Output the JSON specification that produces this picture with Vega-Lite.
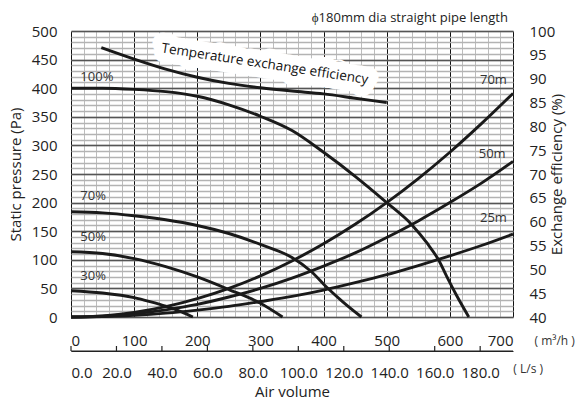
{
  "$schema": "https://vega.github.io/schema/vega-lite/v6.json",
  "width": 442,
  "height": 286,
  "autosize": {"type": "none"},
  "padding": {"left": 71, "top": 31, "right": 66, "bottom": 84},
  "background": "white",
  "config": {
    "view": {"stroke": null},
    "font": "Open Sans",
    "axis": {"labelFont": "Open Sans", "labelFontSize": 15, "labelColor": "#222", "titleFont": "Open Sans", "titleFontSize": 15, "titleFontWeight": "normal", "titleColor": "#222"}
  },
  "datasets": {
    "note": [{"x": 307, "y": 442, "label": "Temperature exchange efficiency"}],
    "head": [{"x": 692, "y": 522, "label": "ϕ180mm dia straight pipe length"}],
    "fan": [
      {"s": "100%", "q": 0, "p": 400}, {"s": "100%", "q": 50, "p": 400}, {"s": "100%", "q": 100, "p": 398}, {"s": "100%", "q": 150, "p": 394}, {"s": "100%", "q": 200, "p": 386}, {"s": "100%", "q": 250, "p": 371}, {"s": "100%", "q": 300, "p": 351}, {"s": "100%", "q": 350, "p": 326}, {"s": "100%", "q": 400, "p": 288}, {"s": "100%", "q": 450, "p": 246}, {"s": "100%", "q": 500, "p": 200}, {"s": "100%", "q": 540, "p": 161}, {"s": "100%", "q": 564, "p": 129}, {"s": "100%", "q": 582, "p": 100}, {"s": "100%", "q": 595, "p": 71}, {"s": "100%", "q": 609, "p": 41}, {"s": "100%", "q": 630, "p": 0},
      {"s": "70%", "q": 0, "p": 184}, {"s": "70%", "q": 50, "p": 182}, {"s": "70%", "q": 100, "p": 177}, {"s": "70%", "q": 150, "p": 170}, {"s": "70%", "q": 200, "p": 160}, {"s": "70%", "q": 250, "p": 146}, {"s": "70%", "q": 300, "p": 127}, {"s": "70%", "q": 350, "p": 104}, {"s": "70%", "q": 380, "p": 80}, {"s": "70%", "q": 405, "p": 52}, {"s": "70%", "q": 430, "p": 27}, {"s": "70%", "q": 460, "p": 0},
      {"s": "50%", "q": 0, "p": 114}, {"s": "50%", "q": 50, "p": 111}, {"s": "50%", "q": 100, "p": 102}, {"s": "50%", "q": 150, "p": 88}, {"s": "50%", "q": 200, "p": 70}, {"s": "50%", "q": 250, "p": 48}, {"s": "50%", "q": 300, "p": 24}, {"s": "50%", "q": 335, "p": 0},
      {"s": "30%", "q": 0, "p": 46}, {"s": "30%", "q": 50, "p": 42}, {"s": "30%", "q": 100, "p": 34}, {"s": "30%", "q": 125, "p": 27}, {"s": "30%", "q": 150, "p": 19}, {"s": "30%", "q": 175, "p": 9}, {"s": "30%", "q": 193, "p": 0}
    ],
    "sys": [
      {"s": "70m", "q": 0, "p": 0}, {"s": "70m", "q": 50, "p": 2}, {"s": "70m", "q": 100, "p": 8}, {"s": "70m", "q": 150, "p": 18}, {"s": "70m", "q": 200, "p": 32}, {"s": "70m", "q": 250, "p": 50}, {"s": "70m", "q": 300, "p": 72}, {"s": "70m", "q": 350, "p": 98}, {"s": "70m", "q": 400, "p": 128}, {"s": "70m", "q": 450, "p": 162}, {"s": "70m", "q": 500, "p": 200}, {"s": "70m", "q": 550, "p": 242}, {"s": "70m", "q": 600, "p": 288}, {"s": "70m", "q": 650, "p": 338}, {"s": "70m", "q": 700, "p": 391},
      {"s": "50m", "q": 0, "p": 0}, {"s": "50m", "q": 50, "p": 1.4}, {"s": "50m", "q": 100, "p": 5.6}, {"s": "50m", "q": 150, "p": 12.5}, {"s": "50m", "q": 200, "p": 22}, {"s": "50m", "q": 250, "p": 35}, {"s": "50m", "q": 300, "p": 50}, {"s": "50m", "q": 350, "p": 68}, {"s": "50m", "q": 400, "p": 89}, {"s": "50m", "q": 450, "p": 112}, {"s": "50m", "q": 500, "p": 139}, {"s": "50m", "q": 550, "p": 168}, {"s": "50m", "q": 600, "p": 200}, {"s": "50m", "q": 650, "p": 234}, {"s": "50m", "q": 700, "p": 272},
      {"s": "25m", "q": 0, "p": 0}, {"s": "25m", "q": 50, "p": 0.7}, {"s": "25m", "q": 100, "p": 3}, {"s": "25m", "q": 150, "p": 6.7}, {"s": "25m", "q": 200, "p": 12}, {"s": "25m", "q": 250, "p": 18.5}, {"s": "25m", "q": 300, "p": 27}, {"s": "25m", "q": 350, "p": 36}, {"s": "25m", "q": 400, "p": 47}, {"s": "25m", "q": 450, "p": 60}, {"s": "25m", "q": 500, "p": 74}, {"s": "25m", "q": 550, "p": 90}, {"s": "25m", "q": 600, "p": 107}, {"s": "25m", "q": 650, "p": 125}, {"s": "25m", "q": 700, "p": 145}
    ],
    "eff": [
      {"q": 48, "e": 96.5}, {"q": 100, "e": 94.1}, {"q": 150, "e": 92.0}, {"q": 200, "e": 90.3}, {"q": 250, "e": 89.0}, {"q": 300, "e": 88.1}, {"q": 350, "e": 87.4}, {"q": 400, "e": 86.8}, {"q": 450, "e": 85.9}, {"q": 500, "e": 85.0}
    ],
    "lps": [{"v": 0}, {"v": 20}, {"v": 40}, {"v": 60}, {"v": 80}, {"v": 100}, {"v": 120}, {"v": 140}, {"v": 160}, {"v": 180}],
    "baseline": [{"a": 0, "b": 700, "y": -59.4}],
    "labels": [
      {"x": 41, "y": 419, "t": "100%"}, {"x": 35, "y": 211, "t": "70%"}, {"x": 35, "y": 140, "t": "50%"}, {"x": 35, "y": 72, "t": "30%"},
      {"x": 669, "y": 414, "t": "70m"}, {"x": 667, "y": 285, "t": "50m"}, {"x": 669, "y": 173, "t": "25m"}
    ],
    "units": [
      {"x": 766, "y": -42, "t": "( m³/h )"}, {"x": 724, "y": -91, "t": "( L/s )"}
    ]
  },
  "layer": [
    {
      "data": {"name": "lps"},
      "mark": {"type": "rule", "color": "#222", "strokeWidth": 1.2},
      "encoding": {
        "x": {"field": "v", "type": "quantitative", "scale": {"domain": [0, 194.4444], "nice": false, "zero": false},
              "axis": {"orient": "bottom", "offset": 34, "values": [0,20,40,60,80,100,120,140,160,180], "format": ".1f", "domain": true, "domainColor": "#222", "domainWidth": 1.2, "ticks": false, "labelPadding": 14, "grid": false, "title": "Air volume", "titlePadding": 4}},
        "y": {"datum": -59.4, "type": "quantitative", "scale": {"domain": [0, 500], "nice": false, "zero": false}, "axis": null},
        "y2": {"datum": -50.7}
      }
    },
    {
      "data": {"name": "baseline"},
      "mark": {"type": "rule", "color": "#222", "strokeWidth": 1.2},
      "encoding": {
        "x": {"field": "a", "type": "quantitative", "scale": {"domain": [0, 700], "nice": false, "zero": false}, "axis": null},
        "x2": {"field": "b"},
        "y": {"field": "y", "type": "quantitative", "scale": {"domain": [0, 500], "nice": false, "zero": false}, "axis": null}
      }
    },
    {
      "data": {"name": "note"},
      "mark": {"type": "text", "angle": 8.7, "fontSize": 13.5, "font": "Open Sans", "stroke": "white", "strokeWidth": 20, "strokeJoin": "round", "fill": "white"},
      "encoding": {
        "x": {"field": "x", "type": "quantitative", "scale": {"domain": [0, 700], "nice": false, "zero": false},
              "axis": {"orient": "bottom", "values": [0,20,40,60,80,100,120,140,160,180,200,220,240,260,280,300,320,340,360,380,400,420,440,460,480,500,520,540,560,580,600,620,640,660,680,700], "grid": true, "gridColor": "#bdbdbd", "gridWidth": 1, "domain": false, "ticks": false, "labels": false, "title": null}},
        "y": {"field": "y", "type": "quantitative", "scale": {"domain": [0, 500], "nice": false, "zero": false},
              "axis": {"orient": "left", "values": [0,10,20,30,40,50,60,70,80,90,100,110,120,130,140,150,160,170,180,190,200,210,220,230,240,250,260,270,280,290,300,310,320,330,340,350,360,370,380,390,400,410,420,430,440,450,460,470,480,490,500], "grid": true, "gridColor": "#b3b3b3", "gridWidth": 1.3, "domain": false, "ticks": false, "labels": false, "title": null}},
        "text": {"field": "label"}
      }
    },
    {
      "data": {"name": "fan"},
      "mark": {"type": "line", "interpolate": "monotone", "strokeWidth": 2.9, "color": "#1a1a1a"},
      "encoding": {
        "x": {"field": "q", "type": "quantitative", "scale": {"domain": [0, 700], "nice": false, "zero": false},
              "axis": {"orient": "bottom", "values": [0,100,200,300,400,500,600,700], "grid": true, "gridColor": "#111", "gridWidth": 1, "domain": false, "ticks": false, "labelPadding": 16, "title": null}},
        "y": {"field": "p", "type": "quantitative", "scale": {"domain": [0, 500], "nice": false, "zero": false},
              "axis": {"orient": "left", "values": [0,50,100,150,200,250,300,350,400,450,500], "grid": true, "gridColor": "#555", "gridWidth": 1.5, "domain": false, "ticks": false, "labelPadding": 14, "title": "Static pressure (Pa)", "titlePadding": 8}},
        "detail": {"field": "s"}
      }
    },
    {
      "data": {"name": "sys"},
      "mark": {"type": "line", "interpolate": "monotone", "strokeWidth": 2.9, "color": "#1a1a1a"},
      "encoding": {
        "x": {"field": "q", "type": "quantitative", "scale": {"domain": [0, 700], "nice": false, "zero": false}, "axis": null},
        "y": {"field": "p", "type": "quantitative", "scale": {"domain": [0, 500], "nice": false, "zero": false}, "axis": null},
        "detail": {"field": "s"}
      }
    },
    {
      "data": {"name": "eff"},
      "mark": {"type": "line", "interpolate": "monotone", "strokeWidth": 2.9, "color": "#1a1a1a"},
      "encoding": {
        "x": {"field": "q", "type": "quantitative", "scale": {"domain": [0, 700], "nice": false, "zero": false}, "axis": null},
        "y": {"field": "e", "type": "quantitative", "scale": {"domain": [40, 100], "nice": false, "zero": false},
              "axis": {"orient": "right", "values": [40,45,50,55,60,65,70,75,80,85,90,95,100], "grid": false, "domain": false, "ticks": false, "labelPadding": 16, "title": "Exchange efficiency (%)", "titleAngle": 270, "titlePadding": 10}}
      }
    },
    {
      "data": {"name": "note"},
      "mark": {"type": "text", "angle": 8.7, "fontSize": 13.5, "font": "Open Sans", "color": "#111"},
      "encoding": {
        "x": {"field": "x", "type": "quantitative", "scale": {"domain": [0, 700], "nice": false, "zero": false}, "axis": null},
        "y": {"field": "y", "type": "quantitative", "scale": {"domain": [0, 500], "nice": false, "zero": false}, "axis": null},
        "text": {"field": "label"}
      }
    },
    {
      "data": {"name": "head"},
      "mark": {"type": "text", "fontSize": 13, "font": "Open Sans", "color": "#222", "align": "right"},
      "encoding": {
        "x": {"field": "x", "type": "quantitative", "scale": {"domain": [0, 700], "nice": false, "zero": false}, "axis": null},
        "y": {"field": "y", "type": "quantitative", "scale": {"domain": [0, 500], "nice": false, "zero": false}, "axis": null},
        "text": {"field": "label"}
      }
    },
    {
      "data": {"name": "labels"},
      "mark": {"type": "text", "fontSize": 13, "font": "Open Sans", "color": "#333"},
      "encoding": {
        "x": {"field": "x", "type": "quantitative", "scale": {"domain": [0, 700], "nice": false, "zero": false}, "axis": null},
        "y": {"field": "y", "type": "quantitative", "scale": {"domain": [0, 500], "nice": false, "zero": false}, "axis": null},
        "text": {"field": "t"}
      }
    },
    {
      "data": {"name": "units"},
      "mark": {"type": "text", "fontSize": 12, "font": "Open Sans", "color": "#333"},
      "encoding": {
        "x": {"field": "x", "type": "quantitative", "scale": {"domain": [0, 700], "nice": false, "zero": false}, "axis": null},
        "y": {"field": "y", "type": "quantitative", "scale": {"domain": [0, 500], "nice": false, "zero": false}, "axis": null},
        "text": {"field": "t"}
      }
    }
  ],
  "resolve": {"scale": {"x": "independent", "y": "independent"}, "axis": {"x": "independent", "y": "independent"}}
}
